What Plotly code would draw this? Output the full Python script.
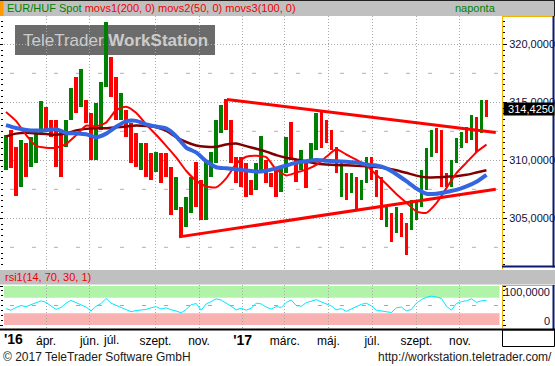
import pandas as pd
import plotly.graph_objects as go

W, H = 555, 366
def px(x): return x / W
def py(y): return 1 - y / H

# ---------------- data ----------------
bar_dates = pd.date_range("2016-02-05", periods=97, freq="7D")   # weekly bars
bar_high = [
    312.19, 312.61, 311.18, 311.75, 311.47, 312.04, 312.61, 315.12, 314.63, 313.48,
    313.48, 312.61, 313.48, 316.21, 317.21, 317.85, 315.20, 314.05, 314.91, 316.78,
    321.90, 318.94, 317.21, 315.78, 314.34, 313.19, 312.33, 311.47, 311.47, 310.60,
    310.75, 310.60, 310.60, 309.45, 308.59, 306.00, 306.87, 308.59, 309.88, 308.31,
    310.03, 310.75, 313.48, 314.77, 315.26, 313.48, 310.32, 310.32, 309.74, 308.31,
    309.74, 312.10, 310.03, 308.88, 309.17, 309.45, 312.04, 313.33, 310.03, 310.89,
    310.03, 311.47, 314.05, 314.20, 313.48, 312.61, 311.18, 309.74, 308.88, 308.88,
    308.59, 308.31, 310.32, 310.32, 309.17, 308.59, 306.00, 305.43, 306.00, 305.43,
    304.57, 306.58, 306.58, 309.17, 311.04, 312.61, 312.76, 312.61, 308.88, 310.03,
    311.90, 312.47, 312.90, 313.91, 313.76, 315.20, 315.20]
bar_low = [
    309.17, 309.31, 306.96, 307.73, 308.59, 309.45, 309.74, 312.33, 312.62, 312.04,
    309.45, 308.59, 311.18, 313.48, 314.05, 314.63, 313.19, 310.03, 310.03, 312.62,
    316.35, 315.49, 313.48, 313.48, 312.04, 309.74, 309.45, 309.17, 308.59, 308.31,
    309.02, 308.02, 308.59, 305.29, 305.72, 303.42, 304.28, 305.43, 306.00, 304.86,
    304.86, 308.59, 309.74, 312.33, 312.62, 309.74, 308.02, 307.73, 306.87, 307.01,
    307.44, 309.17, 308.02, 307.73, 306.87, 307.30, 308.88, 310.03, 308.16, 309.17,
    307.59, 309.74, 310.89, 311.03, 311.47, 310.89, 308.88, 306.87, 306.58, 307.16,
    305.72, 306.58, 308.02, 308.31, 306.87, 304.86, 304.28, 302.99, 303.71, 303.42,
    301.84, 303.99, 304.86, 306.00, 307.44, 310.32, 310.60, 307.73, 307.73, 307.73,
    309.74, 311.03, 311.47, 311.75, 310.75, 312.33, 313.76]
bar_up = [1, 0, 0, 1, 0, 1, 1, 1, 0, 0,  0, 0, 1, 1, 0, 1, 0, 0, 1, 1,
          1, 0, 0, 1, 0, 0, 0, 1, 0, 0,  1, 0, 0, 0, 1, 0, 1, 1, 0, 0,
          1, 1, 1, 1, 0, 0, 0, 0, 0, 0,  1, 1, 0, 0, 0, 1, 1, 0, 0, 1,
          0, 1, 1, 0, 0, 0, 0, 1, 0, 1,  0, 1, 1, 0, 0, 0, 1, 0, 1, 0,
          0, 1, 1, 1, 1, 1, 0, 0, 0, 1,  1, 1, 0, 1, 0, 1, 0]
rsi_values = [42, 38, 45, 50, 47, 52, 57, 62, 58, 50,  40, 45, 56, 63, 58, 52, 46, 36, 48, 55,
              68, 56, 50, 46, 39, 34, 37, 38, 40, 44,  47, 41, 44, 39, 36, 31, 40, 52, 55, 38,
              54, 60, 67, 64, 57, 48, 39, 43, 38, 43,  56, 54, 46, 41, 47, 45, 58, 64, 50, 48,
              57, 61, 65, 59, 53, 49, 39, 42, 35, 41,  48, 53, 56, 49, 38, 36, 34, 32, 44, 46,
              36, 40, 56, 65, 71, 74, 72, 68, 48, 38,  55, 60, 62, 67, 58, 62, 63]

ma_dates = bar_dates[::2]
ma200 = [312.06, 312.30, 312.38, 312.32, 312.26, 312.21, 312.31, 312.58, 312.71, 312.76,
         312.76, 312.84, 312.92, 312.99, 312.95, 312.85, 312.55, 312.00, 311.58, 311.28,
         311.17, 311.16, 311.36, 311.45, 311.22, 311.00, 310.75, 310.45, 310.22, 310.08,
         309.90, 309.72, 309.64, 309.59, 309.57, 309.53, 309.48, 309.43, 309.32, 309.15,
         308.92, 308.68, 308.53, 308.54, 308.59, 308.63, 308.75, 308.95, 309.15]
ma50 = [314.17, 313.40, 312.20, 311.25, 311.09, 311.09, 311.40, 312.15, 312.98, 312.92,
        313.25, 314.32, 314.62, 314.10, 313.10, 312.20, 311.25, 310.25, 309.10, 308.25,
        307.75, 307.67, 308.45, 309.70, 310.31, 310.40, 310.27, 309.20, 308.70, 308.95,
        309.20, 309.60, 310.30, 310.95, 310.50, 310.05, 309.55, 308.75, 307.95, 307.10,
        306.35, 305.60, 305.47, 306.30, 307.60, 308.90, 309.80, 310.70, 311.35]
ma100 = [313.03, 312.78, 312.62, 312.56, 312.60, 312.68, 312.36, 312.32, 312.25, 311.99,
         312.30, 312.90, 313.36, 313.40, 313.10, 312.91, 312.75, 312.08, 311.10, 310.68,
         309.92, 309.40, 309.31, 309.22, 309.12, 309.02, 309.10, 309.30, 309.55, 309.80,
         309.93, 310.03, 309.97, 309.92, 309.87, 309.82, 309.63, 309.55, 309.30, 308.80,
         308.20, 307.57, 307.12, 307.12, 307.27, 307.45, 307.75, 308.15, 308.75]

trend_upper_dates = ["2016-12-10", "2017-12-21"]
trend_upper_values = [315.25, 312.40]
trend_lower_dates = ["2016-10-04", "2017-12-21"]
trend_lower_values = [303.40, 307.50]
last_price = 314.425

grid_dates = ["2016-04-01", "2016-06-01", "2016-09-01", "2016-11-01", "2017-01-01",
              "2017-03-01", "2017-05-01", "2017-07-01", "2017-09-01", "2017-11-01"]
grid_labels = ["ápr.", "jún.", "szept.", "nov.", "<span style='font-size:14px'><b>'17</b></span>",
               "márc.", "máj.", "júl.", "szept.", "nov."]
extra_label_dates = ["2016-07-01"]
extra_labels = ["júl."]
year_start_label = "'16"

x_range = ["2016-02-02 06:00", "2017-12-29 18:00"]
y_range = [300.63, 322.44]
rsi_range = [-7.69, 102.56]

FONT = "Liberation Sans, Arial, sans-serif"
GREEN, RED, DARKRED, BLUE = "#008000", "#ff0000", "#800000", "#3366e0"
YELLOW, NAVY = "#f0b400", "#0a1a6e"

# ---------------- traces ----------------
fig = go.Figure()
day_ms = 86400000
fig.add_trace(go.Bar(
    x=bar_dates, y=[h - l for h, l in zip(bar_high, bar_low)], base=bar_low,
    marker=dict(color=[GREEN if u else RED for u in bar_up], line=dict(width=0)),
    width=5.0 * day_ms, xaxis="x", yaxis="y", hoverinfo="skip"))
fig.add_trace(go.Scatter(x=ma_dates, y=ma200, mode="lines", yaxis="y",
                         line=dict(color=DARKRED, width=2.5, shape="spline", smoothing=0.6)))
fig.add_trace(go.Scatter(x=ma_dates, y=ma50, mode="lines", yaxis="y",
                         line=dict(color=RED, width=2, shape="spline", smoothing=0.6)))
fig.add_trace(go.Scatter(x=ma_dates, y=ma100, mode="lines", yaxis="y",
                         line=dict(color=BLUE, width=4, shape="spline", smoothing=0.6)))
fig.add_trace(go.Scatter(x=trend_upper_dates, y=trend_upper_values, mode="lines", yaxis="y",
                         line=dict(color=RED, width=3)))
fig.add_trace(go.Scatter(x=trend_lower_dates, y=trend_lower_values, mode="lines", yaxis="y",
                         line=dict(color=RED, width=3)))
fig.add_trace(go.Scatter(x=bar_dates, y=rsi_values, mode="lines", yaxis="y2",
                         line=dict(color="#00e8ff", width=1)))
# helper traces so the left tick-only axes are drawn
fig.add_trace(go.Scatter(x=[bar_dates[0]], y=[None], yaxis="y3", hoverinfo="skip"))
fig.add_trace(go.Scatter(x=[bar_dates[0]], y=[None], yaxis="y4", hoverinfo="skip"))

# ---------------- layout ----------------
main_dom = [py(269), py(16)]
rsi_dom = [py(328), py(285)]
grid = dict(showgrid=True, gridcolor="#a8a8a8", griddash="1px,2px", gridwidth=1)

fig.update_layout(
    width=W, height=H, autosize=False, margin=dict(l=0, r=0, t=0, b=0, pad=0),
    paper_bgcolor="white", plot_bgcolor="white", showlegend=False, hovermode=False,
    separators=", ", font=dict(family=FONT, size=11, color="black"),
    bargap=0,
    xaxis=dict(type="date", range=x_range, domain=[px(4), px(502)], anchor="y2",
               tickvals=grid_dates, ticktext=grid_labels, tickfont=dict(size=12, color="black"),
               ticks="outside", ticklen=2, tickcolor="rgba(0,0,0,0)", showline=False,
               zeroline=False, automargin=False, **grid),
    yaxis=dict(domain=main_dom, range=y_range, side="right", anchor="x",
               dtick=5, tick0=0, tickformat=".4f", tickfont=dict(size=11, color="#10103a"),
               ticks="outside", ticklen=4, tickcolor="black", showline=True,
               linecolor=YELLOW, linewidth=1, zeroline=False, automargin=False,
               minor=dict(dtick=0.5, ticks="outside", ticklen=2, tickcolor="black", showgrid=False),
               **grid),
    yaxis2=dict(domain=rsi_dom, range=rsi_range, side="right", anchor="x",
                tickvals=[0, 100], showticklabels=False, ticks="outside", ticklen=3,
                tickcolor="black", showline=True, linecolor=YELLOW, linewidth=1,
                showgrid=False, zeroline=False, automargin=False,
                minor=dict(dtick=12.5, tick0=0, ticks="outside", ticklen=2, tickcolor="black")),
    yaxis3=dict(overlaying="y", side="left", anchor="x", range=y_range, dtick=5, tick0=0,
                showticklabels=False, ticks="outside", ticklen=3, tickcolor="black",
                showgrid=False, zeroline=False, showline=False, automargin=False,
                minor=dict(dtick=0.5, ticks="outside", ticklen=2, tickcolor="black")),
    yaxis4=dict(overlaying="y2", side="left", anchor="x", range=rsi_range, tickvals=[0, 100],
                showticklabels=False, ticks="outside", ticklen=3, tickcolor="black",
                showgrid=False, zeroline=False, showline=False, automargin=False,
                minor=dict(dtick=12.5, tick0=0, ticks="outside", ticklen=2, tickcolor="black")),
)

shapes = []
def prect(x0, y0, x1, y1, fill, line_color=None, lw=0, layer="above"):
    shapes.append(dict(type="rect", xref="paper", yref="paper", x0=px(x0), x1=px(x1),
                       y0=py(y1), y1=py(y0), fillcolor=fill, layer=layer,
                       line=dict(width=lw, color=line_color or "rgba(0,0,0,0)")))
def pline(x0, y0, x1, y1, color, lw=1):
    shapes.append(dict(type="line", xref="paper", yref="paper", x0=px(x0), x1=px(x1),
                       y0=py(y0), y1=py(y1), line=dict(color=color, width=lw)))

# RSI bands and dashed mid-lines
shapes.append(dict(type="rect", xref="x domain", yref="y2", x0=0, x1=0.995, y0=70, y1=100,
                   fillcolor="#b1f4a9", line=dict(width=0), layer="below"))
shapes.append(dict(type="rect", xref="x domain", yref="y2", x0=0, x1=0.995, y0=0, y1=30,
                   fillcolor="#f8b2b2", line=dict(width=0), layer="below"))
shapes.append(dict(type="line", xref="x domain", yref="y2", x0=0.012, x1=1, y0=50, y1=50,
                   line=dict(color="#a8a8a8", width=1, dash="4px,18px"), layer="below"))
for lvl in [302.5, 307.5, 312.5, 317.5]:
    shapes.append(dict(type="line", xref="x domain", yref="y", x0=0.012, x1=1, y0=lvl, y1=lvl,
                       line=dict(color="#b0b0b0", width=1, dash="4px,18px"), layer="below"))
# watermark box
prect(15, 25, 215, 55, "#6b6b6b", layer="between")
# header bars
prect(0, 0, 555, 16, "#c0c0c0")
prect(0, 0, 3.5, 16, "#ff9900")
pline(0, 0.5, 555, 0.5, "#202020")
pline(554.5, 0, 554.5, 16, "#202020")
prect(0, 270, 555, 284.5, "#c0c0c0")
# right price panel frame
pline(502, 16.5, 555, 16.5, YELLOW)
pline(553.5, 16, 553.5, 267.5, NAVY, 2)
pline(502, 266.5, 555, 266.5, NAVY, 2)
# right rsi panel frame
pline(502, 285.5, 555, 285.5, YELLOW)
pline(553.5, 285, 553.5, 329, NAVY, 2)
# x-label row
pline(0, 329.5, 555, 329.5, "black", 2)
prect(502.5, 330, 554.5, 346.5, "rgba(0,0,0,0)", "black", 1)
fig.update_layout(shapes=shapes)

ann = []
ann.append(dict(xref="paper", yref="paper", x=px(5), y=py(8.5), xanchor="left", yanchor="middle",
                showarrow=False, font=dict(size=11),
                text="<span style='color:#008000'>EUR/HUF Spot</span> "
                     "<span style='color:#f00000'>movs1(200, 0) movs2(50, 0) movs3(100, 0)</span>"))
ann.append(dict(xref="paper", yref="paper", x=px(498), y=py(8.5), xanchor="right", yanchor="middle",
                showarrow=False, font=dict(size=11, color=GREEN), text="naponta"))
ann.append(dict(xref="paper", yref="paper", x=px(115), y=py(40), xanchor="center", yanchor="middle",
                showarrow=False, font=dict(size=17, color="#cccccc"),
                text="TeleTrader <b>WorkStation</b>"))
ann.append(dict(xref="paper", yref="paper", x=px(3), y=py(277), xanchor="left", yanchor="middle",
                showarrow=False, font=dict(size=11, color="#f00000"), text="rsi1(14, 70, 30, 1)"))
ann.append(dict(xref="paper", yref="y2", x=px(551), y=rsi_range[1], xanchor="right", yanchor="top",
                showarrow=False, borderpad=0, font=dict(size=11, color="#10103a"), text="100,0000"))
ann.append(dict(xref="paper", yref="y2", x=px(551), y=rsi_range[0], xanchor="right", yanchor="bottom",
                showarrow=False, borderpad=0, font=dict(size=11, color="#10103a"), text="0"))
ann.append(dict(xref="paper", yref="y", x=px(503), y=last_price, xanchor="left", yanchor="middle",
                showarrow=False, bgcolor="black", borderpad=0, width=50, align="right",
                font=dict(size=11, color="white"), text=f"{last_price:.4f}".replace(".", ",")))
for d, t in zip(extra_label_dates, extra_labels):
    ann.append(dict(xref="x", yref="paper", x=d, y=py(340), xanchor="center", yanchor="middle",
                    showarrow=False, font=dict(size=12, color="black"), text=t))
ann.append(dict(xref="paper", yref="paper", x=px(2), y=py(339), xanchor="left", yanchor="middle",
                showarrow=False, font=dict(size=14, color="black"), text=f"<b>{year_start_label}</b>"))
ann.append(dict(xref="paper", yref="paper", x=px(1), y=py(357), xanchor="left", yanchor="middle",
                showarrow=False, font=dict(size=12, color="#1a1a1a"),
                text="© 2017 TeleTrader Software GmbH"))
ann.append(dict(xref="paper", yref="paper", x=px(554), y=py(357), xanchor="right", yanchor="middle",
                showarrow=False, font=dict(size=12, color="#1a1a1a"),
                text="http://workstation.teletrader.com/"))
fig.update_layout(annotations=ann)

fig.write_html("out.html")
